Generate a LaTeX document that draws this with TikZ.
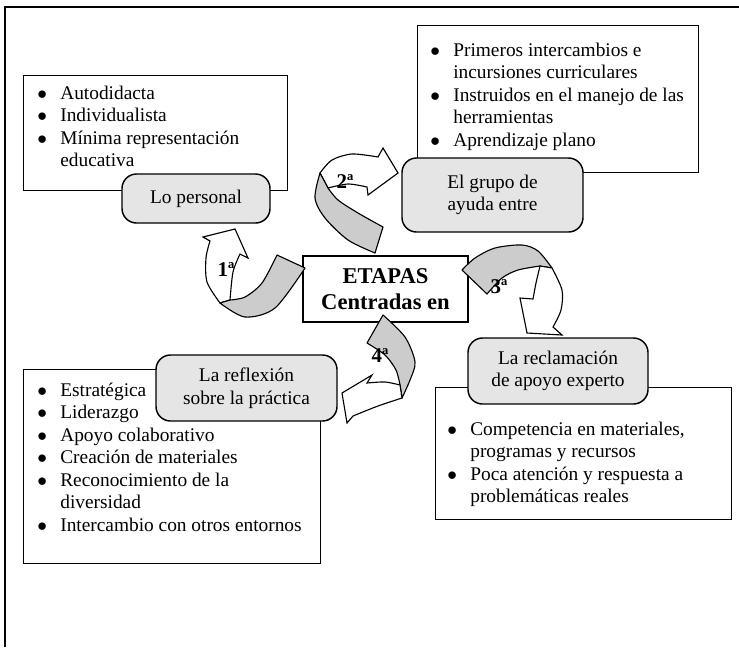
\documentclass[tikz,border=0pt]{standalone}
\usepackage{fontspec}
\setmainfont{Liberation Serif}
\usetikzlibrary{positioning}
\newdimen\pxu
\pxu=0.62pt

\begin{document}
\begin{tikzpicture}[x=\pxu, y=-\pxu,
                    listbox/.style={draw, line width=0.9pt, fill=white, inner sep=0pt, anchor=north west},
                    listtext/.style={anchor=base west, inner sep=0pt, font=\fontsize{12}{14}\selectfont},
                    stagebox/.style={draw, line width=0.9pt, fill=gray!20, rounded corners=9pt, inner sep=0pt, align=center, font=\fontsize{12}{14}\selectfont},
                    centerbox/.style={draw, line width=0.9pt, fill=white, inner sep=0pt, align=center, font=\bfseries\fontsize{14}{16}\selectfont},
                    band/.style={draw, line width=0.7pt, fill=gray!40, line join=round},
                    front/.style={draw, line width=0.7pt, fill=white},
                    ordlabel/.style={inner sep=0pt, font=\bfseries\fontsize{13}{15}\selectfont}
                    ]
    \useasboundingbox (0,0) rectangle (739,647);
    \draw[line width=0.9pt] (739,7) -- (5,7) -- (5,647);

    % list boxes
    \node[listbox, minimum width=264\pxu, minimum height=115\pxu] at (23,75)  (Box1){};
    \node[listbox, minimum width=281\pxu, minimum height=147\pxu] at (417,25) (Box2){};
    \node[listbox, minimum width=297\pxu, minimum height=194\pxu] at (23,369) (Box3){};
    \node[listbox, minimum width=296\pxu, minimum height=132\pxu] at (435,387) (Box4){};

    \node[listtext] at (37,99) (Text1){\begin{tabular}[t]{@{}p{23\pxu}@{}l@{}}
        $\bullet$ & Autodidacta\\
        $\bullet$ & Individualista\\
        $\bullet$ & Mínima representación\\
                  & educativa
        \end{tabular}};
    \node[listtext] at (430,56) (Text2){\begin{tabular}[t]{@{}p{23\pxu}@{}l@{}}
        $\bullet$ & Primeros intercambios e\\
                  & incursiones curriculares\\
        $\bullet$ & Instruidos en el manejo de las\\
                  & herramientas\\
        $\bullet$ & Aprendizaje plano
        \end{tabular}};
    \node[listtext] at (37,396) (Text3){\begin{tabular}[t]{@{}p{23\pxu}@{}l@{}}
        $\bullet$ & Estratégica\\
        $\bullet$ & Liderazgo\\
        $\bullet$ & Apoyo colaborativo\\
        $\bullet$ & Creación de materiales\\
        $\bullet$ & Reconocimiento de la\\
                  & diversidad\\
        $\bullet$ & Intercambio con otros entornos
        \end{tabular}};
    \node[listtext] at (447,435) (Text4){\begin{tabular}[t]{@{}p{23\pxu}@{}l@{}}
        $\bullet$ & Competencia en materiales,\\
                  & programas y recursos\\
        $\bullet$ & Poca atención y respuesta a\\
                  & problemáticas reales
        \end{tabular}};

    % stage boxes
    \node[stagebox, minimum width=148\pxu, minimum height=49\pxu] at (196,198.5) (Stage1){Lo personal};
    \node[stagebox, minimum width=181\pxu, minimum height=74\pxu] at (492.5,195) (Stage2){El grupo de\\ayuda entre};
    \node[stagebox, minimum width=181\pxu, minimum height=66\pxu] at (246.5,388) (Stage3){La reflexión\\sobre la práctica};
    \node[stagebox, minimum width=180\pxu, minimum height=66\pxu] at (558,371)   (Stage4){La reclamación\\de apoyo experto};

    \node[centerbox, minimum width=165\pxu, minimum height=66\pxu] at (385.5,289) (Center){ETAPAS\\Centradas en};

    % curved arrows
    \draw[front] plot[smooth] coordinates {(220,303) (207,282) (206,258) (210,241)} -- (203,237) -- (235,229) -- (248,258) -- (240,254)
                 -- plot[smooth] coordinates {(240,254) (233,272) (230,300)} -- cycle;
    \draw[band]  plot[smooth] coordinates {(277,255) (262,283) (245,297) (230,300)} -- (220,303)
                 -- plot[smooth] coordinates {(220,303) (245,317) (275,308) (305,268)} -- cycle;

    \draw[front] plot[smooth] coordinates {(320,173) (332,160) (352,154) (378,157)} -- (383,148) -- (398,173) -- (368,195) -- (367,187)
                 -- plot[smooth] coordinates {(367,187) (348,184) (328,188)} -- cycle;
    \draw[band]  plot[smooth] coordinates {(320,173) (315,198) (325,218) (348,240) (375,253)} -- (383,227)
                 -- plot[smooth] coordinates {(383,227) (358,213) (338,200) (328,188)} -- cycle;

    \draw[band]  plot[smooth] coordinates {(462,270) (475,258) (495,248) (522,245) (538,251) (552,268)} -- (540,266)
                 -- plot[smooth] coordinates {(540,266) (518,270) (502,278) (487,294)} -- cycle;
    \draw[front] plot[smooth] coordinates {(552,268) (562,290) (561,310) (553,327)} -- (562,335) -- (527,333) -- (520,298) -- (533,299)
                 -- plot[smooth] coordinates {(533,299) (536,283) (540,266)} -- cycle;

    \draw[band]  plot[smooth] coordinates {(383,315) (405,337) (415,362) (410,380) (402,398)} -- (400,385)
                 -- plot[smooth] coordinates {(400,385) (396,370) (385,355) (367,343)} -- cycle;
    \draw[front] plot[smooth] coordinates {(400,385) (385,382) (367,383)} -- (372,375) -- (342,393) -- (347,423) -- (353,416)
                 -- plot[smooth] coordinates {(353,416) (378,406) (402,398)} -- cycle;

    % stage numbers
    \node[ordlabel] at (226,270) (Ord1){1ª};
    \node[ordlabel] at (345,182) (Ord2){2ª};
    \node[ordlabel] at (499,287) (Ord3){3ª};
    \node[ordlabel] at (380,356) (Ord4){4ª};
\end{tikzpicture}
\end{document}
